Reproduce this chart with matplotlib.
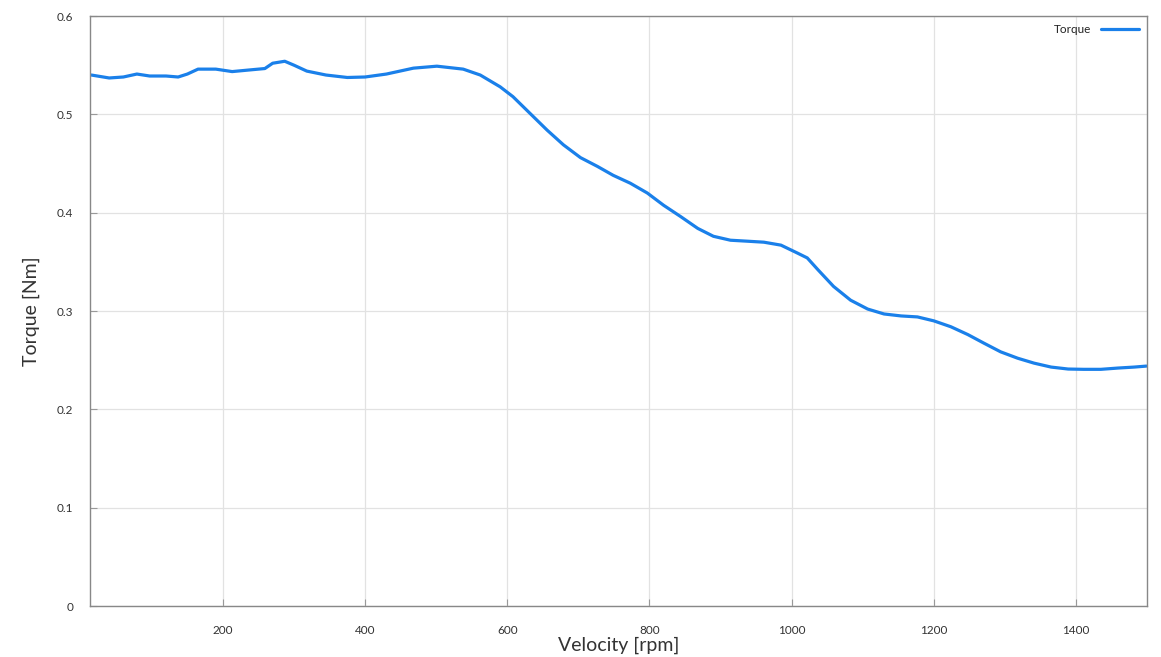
import matplotlib
matplotlib.use("Agg")
import matplotlib.pyplot as plt

plt.rcParams['font.family'] = ['Lato', 'DejaVu Sans']

velocity = [15, 40, 60, 79, 97, 120, 137, 150, 165, 190, 213, 235, 259, 270, 287, 300, 318, 345, 375, 400,
            430, 468, 501, 538, 562, 590, 608, 632, 656, 679, 703, 727, 749, 773, 797, 820, 844, 868,
            890, 914, 938, 961, 985, 1008, 1022, 1037, 1059, 1083, 1107, 1130, 1154, 1177, 1200, 1224,
            1248, 1270, 1294, 1318, 1341, 1365, 1389, 1411, 1435, 1459, 1482, 1499]
torque = [0.540, 0.537, 0.538, 0.541, 0.539, 0.539, 0.538, 0.541, 0.546, 0.546, 0.5435, 0.545, 0.5466, 0.552,
          0.554, 0.550, 0.544, 0.540, 0.5375, 0.538, 0.541, 0.547, 0.549, 0.546, 0.540, 0.528, 0.518,
          0.501, 0.484, 0.469, 0.456, 0.447, 0.438, 0.430, 0.420, 0.4075, 0.396, 0.384, 0.376, 0.372,
          0.371, 0.370, 0.367, 0.359, 0.354, 0.342, 0.325, 0.311, 0.302, 0.297, 0.295, 0.294, 0.290,
          0.284, 0.276, 0.2675, 0.2585, 0.252, 0.247, 0.243, 0.241, 0.2407, 0.2407, 0.242, 0.243, 0.244]

xticks = [200, 400, 600, 800, 1000, 1200, 1400]
yticks = [0, 0.1, 0.2, 0.3, 0.4, 0.5, 0.6]
ytick_labels = ['0', '0.1', '0.2', '0.3', '0.4', '0.5', '0.6']

fig = plt.figure(figsize=(11.61, 6.57), dpi=100)
ax = fig.add_axes([0.0775, 0.0776, 0.9105, 0.898])

ax.plot(velocity, torque, color='#1a80ea', lw=2.3, label='Torque',
        solid_capstyle='round', solid_joinstyle='round')

ax.set_xlim(13, 1500)
ax.set_ylim(0, 0.6)
ax.set_xticks(xticks)
ax.set_yticks(yticks)
ax.set_yticklabels(ytick_labels)
ax.grid(True, color='#e2e2e2', lw=0.9)
ax.set_axisbelow(True)
for s in ax.spines.values():
    s.set_color('#888888')
    s.set_linewidth(1.0)
ax.tick_params(direction='in', length=5, color='#999999', labelsize=8.5, labelcolor='#333333', pad=12)
ax.tick_params(axis='x', pad=14)
ax.set_xlabel('Velocity [rpm]', fontsize=14, color='#333333', labelpad=0)
ax.set_ylabel('Torque [Nm]', fontsize=14, color='#333333', labelpad=12)

leg = ax.legend(loc='upper right', frameon=False, markerfirst=False, fontsize=8.5,
                handlelength=3.2, borderaxespad=0.3)
for t in leg.get_texts():
    t.set_color('#222222')

fig.savefig('out.png', dpi=100, facecolor='white')
